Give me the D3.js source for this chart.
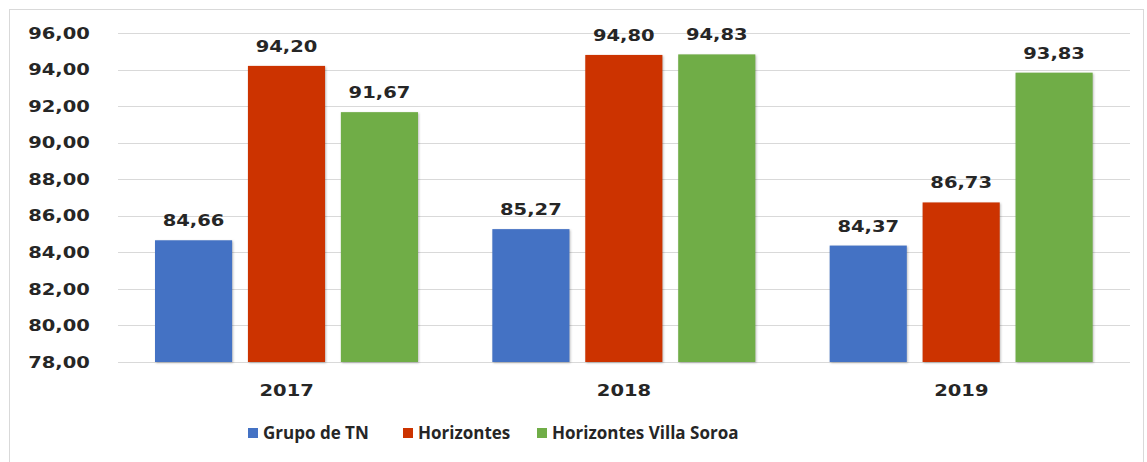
<!DOCTYPE html>
<html>
<head>
<meta charset="utf-8">
<script src="https://cdn.jsdelivr.net/npm/d3@7"></script>
<style>
  body { margin: 0; background: #fff; }
  svg text { font-family: "DejaVu Sans", Verdana, sans-serif; font-weight: bold; fill: #262626; }
</style>
</head>
<body>
<svg id="chart" width="1147" height="462"></svg>
<script>
var years = ["2017", "2018", "2019"];
var seriesNames = ["Grupo de TN", "Horizontes", "Horizontes Villa Soroa"];
var grupoTN = [84.66, 85.27, 84.37];
var horizontes = [94.20, 94.80, 86.73];
var villaSoroa = [91.67, 94.83, 93.83];
var yTicks = [78, 80, 82, 84, 86, 88, 90, 92, 94, 96];
var colors = ["#4472c4", "#cc3300", "#70ad47"];

var svg = d3.select("#chart"),
    margin = {top: 33, right: 17, bottom: 100, left: 118},
    width = 1147 - margin.left - margin.right,
    height = 462 - margin.top - margin.bottom;

var fmt = function(v) { return d3.format(".2f")(v).replace(".", ","); };

var data = years.map(function(y, i) {
  return {year: y, values: [grupoTN[i], horizontes[i], villaSoroa[i]]};
});

// outer frame
svg.append("rect")
    .attr("x", 9.5).attr("y", 9.5)
    .attr("width", 1134).attr("height", 460)
    .attr("fill", "none")
    .attr("stroke", "#d9d9d9");

var x0 = d3.scaleBand().domain(years).range([0, width]).paddingInner(0).paddingOuter(0),
    x1 = d3.scaleBand().domain(d3.range(3)).range([37, 337 - 37]).paddingInner(0.17).paddingOuter(0),
    y = d3.scaleLinear().domain([78, 96]).range([height, 0]);

var g = svg.append("g")
    .attr("transform", "translate(" + margin.left + "," + margin.top + ")");

// gridlines
g.append("g")
    .selectAll("line")
    .data(yTicks)
  .enter().append("line")
    .attr("x1", 0).attr("x2", width)
    .attr("y1", function(d) { return Math.round(y(d)) + 0.5; })
    .attr("y2", function(d) { return Math.round(y(d)) + 0.5; })
    .attr("stroke", "#d9d9d9")
    .attr("stroke-width", 1.2);

// y axis labels
var yAxis = d3.axisLeft(y).tickValues(yTicks).tickFormat(fmt).tickSize(0).tickPadding(0);
var ya = g.append("g").call(yAxis);
ya.select(".domain").remove();
ya.selectAll("text")
    .attr("font-size", 16)
    .attr("text-anchor", "middle")
    .attr("x", 0)
    .attr("transform", "translate(-59,0) scale(1.22,1)");

var groups = g.selectAll(".year")
    .data(data)
  .enter().append("g")
    .attr("class", "year")
    .attr("transform", function(d) { return "translate(" + x0(d.year) + ",0)"; });

groups.selectAll("rect")
    .data(function(d) { return d.values; })
  .enter().append("rect")
    .attr("x", function(d, i) { return x1(i); })
    .attr("y", function(d) { return y(d); })
    .attr("width", x1.bandwidth())
    .attr("height", function(d) { return height - y(d); })
    .attr("fill", function(d, i) { return colors[i]; })
    .style("filter", "drop-shadow(1px 1px 1px rgba(0,0,0,0.25))");

groups.selectAll(".lbl")
    .data(function(d) { return d.values; })
  .enter().append("text")
    .attr("class", "lbl")
    .attr("font-size", 16)
    .attr("text-anchor", "middle")
    .attr("transform", function(d, i) {
      return "translate(" + (x1(i) + x1.bandwidth() / 2) + "," + (y(d) - 14) + ") scale(1.22,1)";
    })
    .text(fmt);

// x axis labels
g.selectAll(".xl")
    .data(years)
  .enter().append("text")
    .attr("class", "xl")
    .attr("font-size", 16)
    .attr("text-anchor", "middle")
    .attr("transform", function(d) {
      return "translate(" + (x0(d) + x0.bandwidth() / 2) + "," + (height + 34) + ") scale(1.22,1)";
    })
    .text(function(d) { return d; });

// legend
var legendX = [248, 403, 537];
var legend = svg.selectAll(".legend")
    .data(seriesNames)
  .enter().append("g")
    .attr("class", "legend")
    .attr("transform", function(d, i) { return "translate(" + legendX[i] + ",428)"; });

legend.append("rect")
    .attr("width", 10).attr("height", 10)
    .attr("fill", function(d, i) { return colors[i]; });

legend.append("text")
    .attr("x", 15).attr("y", 11)
    .attr("font-size", 17)
    .style("font-family", "'Open Sans', sans-serif")
    .text(function(d) { return d; });
</script>
</body>
</html>
